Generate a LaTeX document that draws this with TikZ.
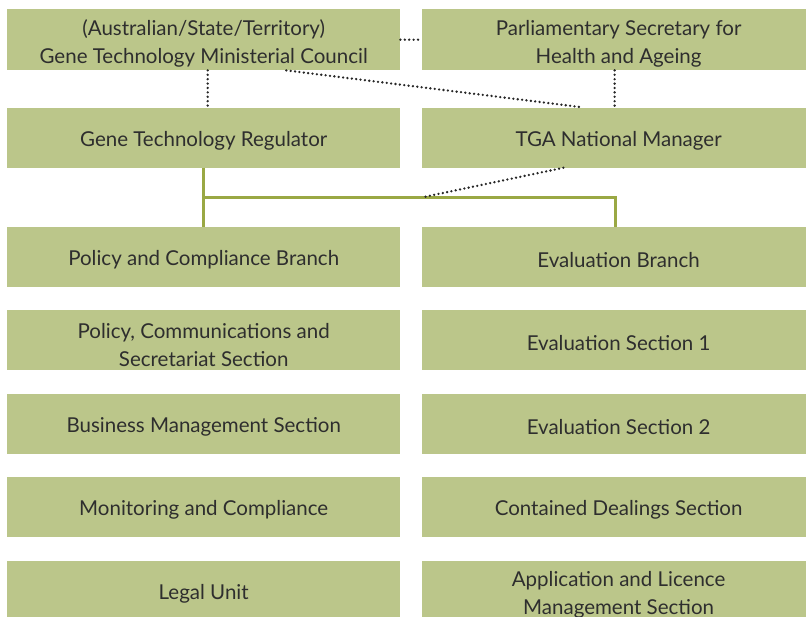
\documentclass[tikz,border=0pt]{standalone}
\usepackage{fontspec}
\setmainfont{Lato}
\usepackage{tikz}
\usetikzlibrary{positioning}
\usetikzlibrary{calc}
\definecolor{boxfill}{HTML}{BBC68A}
\definecolor{branchline}{HTML}{9AA844}
\definecolor{boxtext}{HTML}{2E2E2E}
\tikzset{link/.style = {line width=2.6pt, line cap=round, dash pattern=on 0pt off 4.4pt, black!85}}
\tikzset{branch/.style = {line width=2.6pt, branchline}}

\begin{document}
\begin{tikzpicture}[x=1pt, y=1pt, node distance=23pt and 21pt,
    unit/.style={fill=boxfill, minimum width=393pt, minimum height=60pt, inner sep=0pt,
      align=center, text=boxtext, text height=21pt, font=\fontsize{20.5}{28}\selectfont},
    two lines/.style={text height=52pt}]
    \useasboundingbox (0,0) rectangle (806,-617);
            % ministers
            \node[unit, two lines, minimum height=61pt, anchor=north west] (council) at (7,-9) {(Australian/State/Territory)\\Gene Technology Ministerial Council};
            \node[unit, two lines, minimum height=61pt, minimum width=394pt] (parl) [right=21pt of council] {Parliamentary Secretary for\\Health and Ageing};
            % heads
            \node[unit] (gtr) [below=37pt of council] {Gene Technology Regulator};
            \node[unit, minimum width=394pt] (tga) [below=37pt of parl] {TGA National Manager};
            % branches
            \node[unit] (pcb) [below=59pt of gtr] {Policy and Compliance Branch};
            \node[unit, minimum width=394pt] (eb) [below=59pt of tga] {Evaluation Branch};
            % sections
            \node[unit, two lines] (pcs) [below=of pcb] {Policy, Communications and\\Secretariat Section};
            \node[unit] (bms) [below=of pcs] {Business Management Section};
            \node[unit] (mac) [below=of bms] {Monitoring and Compliance};
            \node[unit] (legal) [below=of mac] {Legal Unit};
            \node[unit, minimum width=394pt] (es1) [below=of eb] {Evaluation Section 1};
            \node[unit, minimum width=394pt] (es2) [below=of es1] {Evaluation Section 2};
            \node[unit, minimum width=394pt] (cds) [below=of es2] {Contained Dealings Section};
            \node[unit, two lines, minimum width=394pt] (alm) [below=of cds] {Application and Licence\\Management Section};
            % reporting lines
            \draw[branch] (gtr.south) -- (pcb.north);
            \draw[branch] ($(gtr.south)!0.5!(pcb.north)$) coordinate (fork) -| ([xshift=-3pt]eb.north);
            \draw[link] (council) -- (parl);
            \draw[link] ([xshift=4pt]council.south) -- ([xshift=4pt]gtr.north);
            \draw[link] ([xshift=-4pt]parl.south) -- ([xshift=-4pt]tga.north);
            \draw[link] ($(council.south west)!0.71!(council.south east)$) -- ($(tga.north west)!0.41!(tga.north east)$);
            \draw[link] ($(tga.south west)!0.36!(tga.south east)$) -- ([xshift=1pt]fork -| tga.west);
        \end{tikzpicture}
\end{document}
